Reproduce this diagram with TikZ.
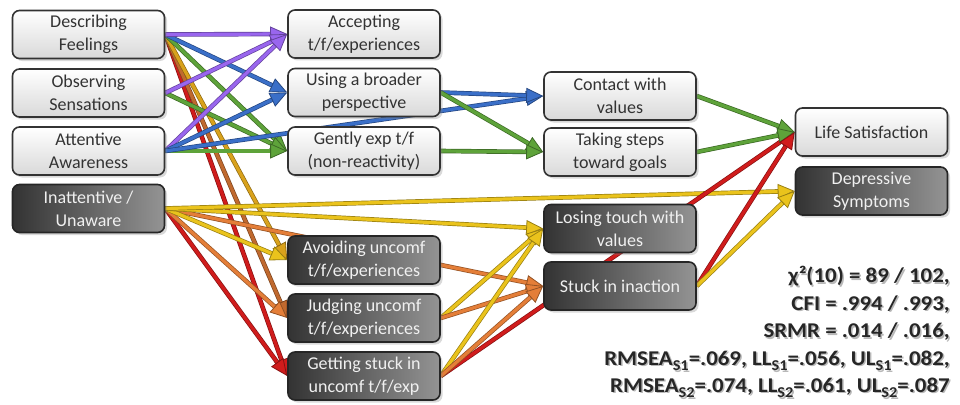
\documentclass[tikz,border=0pt]{standalone}
\usepackage{fontspec}
\setmainfont{Carlito}
\usetikzlibrary{arrows.meta,shadows,backgrounds}
\definecolor{cpurple}{HTML}{9966EE}
\definecolor{cblue}{HTML}{3A6FC8}
\definecolor{cgreen}{HTML}{5EA33A}
\definecolor{cred}{HTML}{D01C1C}
\definecolor{corange}{HTML}{E47E38}
\definecolor{cbrown}{HTML}{C0692E}
\definecolor{cyellow}{HTML}{EAC31C}
\definecolor{cgold}{HTML}{D9A21C}
\newcommand\sbs[1]{\raisebox{-0.28em}{\fontsize{15}{15}\selectfont #1}}
\begin{document}
\begin{tikzpicture}[x=1pt,y=-1pt,
  box/.style={rounded corners=7pt, line width=1.6pt, minimum width=152pt, minimum height=48pt,
    align=center, inner sep=2pt, font=\fontsize{18}{23}\selectfont,
    drop shadow={opacity=0.3,shadow xshift=2.5pt,shadow yshift=-2.5pt}},
  lightbox/.style={box, draw=black!80, top color=white, bottom color=black!15, text=black!80},
  darkbox/.style={box, draw=black!85, left color=black!80, right color=black!42, text=black!6},
  link/.style={line width=3.2pt, draw=#1,
    preaction={draw=#1!65!black, line width=4.6pt, -, shorten >=13pt},
    -{Triangle[length=17pt,width=15pt,fill=#1,color=#1!65!black,line width=0.8pt]}},
  stat/.style={anchor=base east, inner sep=0pt, text=black!85, xscale=1.09, transform shape,
    font=\bfseries\fontsize{21}{24}\selectfont},
  statsh/.style={stat, text=black, opacity=0.28}
]
\useasboundingbox (0,0) rectangle (960,404);

% left column
\node[lightbox] (df) at (88.5,34.5) {Describing\\Feelings};
\node[lightbox] (os) at (88.5,93) {Observing\\Sensations};
\node[lightbox] (aa) at (88.5,151) {Attentive\\Awareness};
\node[darkbox]  (iu) at (88.5,208.5) {Inattentive /\\Unaware};
% middle column
\node[lightbox] (acc) at (364,34) {Accepting\\t/f/experiences};
\node[lightbox] (ubp) at (364,92.5) {Using a broader\\perspective};
\node[lightbox] (gen) at (364,151) {Gently exp t/f\\(non-reactivity)};
\node[darkbox]  (avo) at (364,260) {Avoiding uncomf\\t/f/experiences};
\node[darkbox]  (jud) at (364,318) {Judging uncomf\\t/f/experiences};
\node[darkbox]  (gsi) at (364,376) {Getting stuck in\\uncomf t/f/exp};
% third column
\node[lightbox] (cwv) at (620,96) {Contact with\\values};
\node[lightbox] (tst) at (620,152) {Taking steps\\toward goals};
\node[darkbox]  (ltv) at (620,228.5) {Losing touch with\\values};
\node[darkbox]  (sii) at (620,286) {Stuck in inaction};
% right column
\node[lightbox] (ls) at (871.5,132) {Life Satisfaction};
\node[darkbox]  (ds) at (871.5,191) {Depressive\\Symptoms};

% fit statistics (soft shadow, then text)
\node[statsh] (h1) at (951.5,284) {χ²(10) = 89 / 102,};
\node[statsh] (h2) at (951.5,311.5) {CFI = .994 / .993,};
\node[statsh] (h3) at (951.5,339) {SRMR = .014 / .016,};
\node[statsh] (h4) at (951.5,366.5) {RMSEA\sbs{S1}=.069, LL\sbs{S1}=.056, UL\sbs{S1}=.082,};
\node[statsh] (h5) at (951.5,393.5) {RMSEA\sbs{S2}=.074, LL\sbs{S2}=.061, UL\sbs{S2}=.087};
\node[stat] (s1) at (950,282.5) {χ²(10) = 89 / 102,};
\node[stat] (s2) at (950,310) {CFI = .994 / .993,};
\node[stat] (s3) at (950,337.5) {SRMR = .014 / .016,};
\node[stat] (s4) at (950,365) {RMSEA\sbs{S1}=.069, LL\sbs{S1}=.056, UL\sbs{S1}=.082,};
\node[stat] (s5) at (950,392) {RMSEA\sbs{S2}=.074, LL\sbs{S2}=.061, UL\sbs{S2}=.087};

\begin{pgfonlayer}{background}
% from Describing Feelings
\draw[link=cred]    (df.east) -- (gsi.west);
\draw[link=cbrown]  (df.east) -- (jud.west);
\draw[link=cgold]   (df.east) -- (avo.west);
\draw[link=cgreen]  (df.east) -- (gen.west);
\draw[link=cblue]   (df.east) -- (ubp.west);
\draw[link=cpurple] (df.east) -- (acc.west);
% from Observing Sensations
\draw[link=cgreen]  (os.east) -- (gen.west);
\draw[link=cpurple] (os.east) -- (acc.west);
% from Attentive Awareness
\draw[link=cgreen]  (aa.east) -- (gen.west);
\draw[link=cpurple] (aa.east) -- (acc.west);
\draw[link=cblue]   (aa.east) -- (ubp.west);
\draw[link=cblue]   (aa.east) -- (cwv.west);
% from Inattentive / Unaware
\draw[link=cred]    (iu.east) -- (gsi.west);
\draw[link=corange] (iu.east) -- (jud.west);
\draw[link=corange] (iu.east) -- (sii.west);
\draw[link=cyellow] (iu.east) -- (avo.west);
\draw[link=cyellow] (iu.east) -- (ltv.west);
\draw[link=cyellow] (iu.east) -- (ds.west);
% middle to third
\draw[link=cblue]   (ubp.east) -- (cwv.west);
\draw[link=cgreen]  (ubp.east) -- (tst.west);
\draw[link=cgreen]  (gen.east) -- (tst.west);
\draw[link=cred]    (gsi.east) -- (ls.west);
\draw[link=cyellow] (jud.east) -- (ltv.west);
\draw[link=corange] (jud.east) -- (sii.west);
\draw[link=cyellow] (gsi.east) -- (ltv.west);
\draw[link=corange] (gsi.east) -- (sii.west);
% third to outcomes
\draw[link=cgreen]  (cwv.east) -- (ls.west);
\draw[link=cgreen]  (tst.east) -- (ls.west);
\draw[link=cred]    (sii.east) -- (ls.west);
\draw[link=cyellow] (sii.east) -- (ds.west);
\end{pgfonlayer}
\end{tikzpicture}
\end{document}
